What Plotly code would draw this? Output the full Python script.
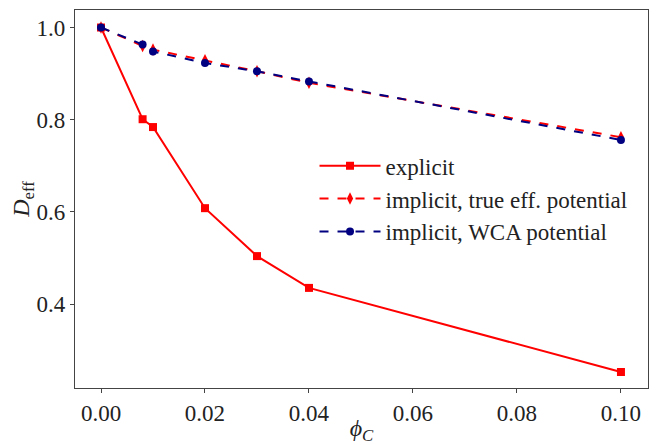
import plotly.graph_objects as go

phi = [0.0, 0.008, 0.01, 0.02, 0.03, 0.04, 0.1]
explicit = [1.0, 0.801, 0.784, 0.608, 0.504, 0.435, 0.2525]
implicit_true = [1.0, 0.960, 0.952, 0.929, 0.905, 0.880, 0.762]
implicit_wca = [1.0, 0.963, 0.948, 0.923, 0.905, 0.883, 0.756]

xticks = [0.0, 0.02, 0.04, 0.06, 0.08, 0.10]
xticklabels = ["0.00", "0.02", "0.04", "0.06", "0.08", "0.10"]
yticks = [0.4, 0.6, 0.8, 1.0]
yticklabels = ["0.4", "0.6", "0.8", "1.0"]

serif = "Liberation Serif"

fig = go.Figure()
fig.add_trace(go.Scatter(x=phi, y=explicit, mode="lines+markers", name="explicit",
                         line=dict(color="#ff0000", width=2),
                         marker=dict(symbol="square", size=8, color="#ff0000")))
fig.add_trace(go.Scatter(x=phi, y=implicit_true, mode="lines+markers", name="implicit, true eff. potential",
                         line=dict(color="#ff0000", width=2, dash="dash"),
                         marker=dict(symbol="diamond-tall", size=9, color="#ff0000")))
fig.add_trace(go.Scatter(x=phi, y=implicit_wca, mode="lines+markers", name="implicit, WCA potential",
                         line=dict(color="#000080", width=2, dash="dash"),
                         marker=dict(symbol="circle", size=8, color="#000080")))

axis_common = dict(showline=True, linecolor="#444444", linewidth=1.2, mirror=True,
                   ticks="outside", ticklen=4, tickcolor="#444444", showgrid=False,
                   zeroline=False, automargin=False,
                   tickfont=dict(family=serif, size=23, color="#222222"))

fig.update_layout(
    width=651, height=437,
    margin=dict(l=67, r=11, t=2, b=57, autoexpand=False),
    plot_bgcolor="white", paper_bgcolor="white",
    font=dict(family=serif, color="#222222"),
    xaxis=dict(range=[-0.005, 0.1052], tickvals=xticks, ticktext=xticklabels,
               title=dict(text="<i>ϕ</i><sub><i>C</i></sub>", font=dict(family=serif, size=24), standoff=10),
               **axis_common),
    yaxis=dict(range=[0.2178, 1.038], tickvals=yticks, ticktext=yticklabels,
               title=dict(text="<i>D</i><sub>eff</sub>", font=dict(family=serif, size=24), standoff=6),
               **axis_common),
    legend=dict(x=0.418, y=0.645, xanchor="left", yanchor="top", bgcolor="rgba(255,255,255,0)",
                font=dict(family=serif, size=23, color="#222222"), tracegroupgap=0, itemwidth=61),
    showlegend=True,
)

fig.write_html("out.html")
